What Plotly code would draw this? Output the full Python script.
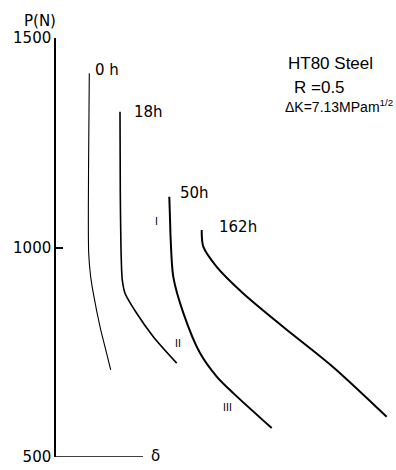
import plotly.graph_objects as go

# delta (arbitrary units) and load P (N) for each ageing time
d_0h = [33.3, 32.6, 32.7, 34.7, 37.3, 44.0, 50.7, 54.7]
p_0h = [1416, 1209, 986, 930, 891, 811, 747, 708]

d_18h = [64.0, 64.3, 65.3, 66.3, 69.0, 80.7, 97.3, 120.7]
p_18h = [1324, 1129, 970, 922, 891, 843, 787, 724]

d_50h = [113.3, 114.0, 114.7, 117.3, 127.3, 144.0, 160.7, 177.0, 215.7]
p_50h = [1121, 1070, 1018, 930, 844, 748, 692, 653, 569]

d_162h = [145.7, 147.3, 160.7, 187.0, 227.0, 277.0, 330.7]
p_162h = [1042, 1002, 954, 891, 811, 715, 596]

curve_labels = ["0 h", "18h", "50h", "162h"]
y_ticks = [500, 1000, 1500]

FONT = "DejaVu Sans"
FONT2 = "Liberation Sans"

fig = go.Figure()
for d, p, w in [(d_0h, p_0h, 1.1), (d_18h, p_18h, 1.6), (d_50h, p_50h, 2.0), (d_162h, p_162h, 2.0)]:
    fig.add_trace(go.Scatter(x=d, y=p, mode="lines", line=dict(color="black", width=w, shape="spline", smoothing=0.8),
                             showlegend=False, hoverinfo="skip"))

# short delta axis
fig.add_shape(type="line", x0=0, x1=87, y0=500, y1=500, line=dict(color="black", width=1.5))

ann = [
    (50.5, 1424, curve_labels[0], 15), (92, 1324, curve_labels[1], 15),
    (138, 1131, curve_labels[2], 15), (182, 1048, curve_labels[3], 15),
    (100, 1061, "I", 10), (122, 770, "II", 10), (171, 617, "III", 10), (99, 503, "δ", 15),
]
for x, y, t, s in ann:
    fig.add_annotation(x=x, y=y, text=t, showarrow=False, font=dict(family=FONT, size=s, color="black"))

fig.add_annotation(xref="paper", yref="paper", x=-0.047, y=1.041, xanchor="center", yanchor="middle",
                   text="P(N)", showarrow=False, font=dict(family=FONT, size=15, color="black"))

for x, y, t, s in [(230, 1439, "HT80 Steel", 17), (236, 1381, "R =0.5", 17),
                   (227, 1338, "ΔK=7.13MPam<sup>1/2</sup>", 14)]:
    fig.add_annotation(x=x, y=y, text=t, showarrow=False, xanchor="left", yanchor="middle",
                       font=dict(family=FONT2, size=s, color="black"))

fig.update_xaxes(range=[0, 340], visible=False)
fig.update_yaxes(range=[500, 1500], tickvals=y_ticks, ticktext=[str(v) for v in y_ticks],
                 showline=True, linecolor="black", linewidth=1.5, ticks="inside", ticklen=7,
                 tickcolor="black", tickwidth=1.5, showgrid=False, zeroline=False, automargin=False,
                 tickfont=dict(family=FONT, size=15, color="black"))
fig.update_layout(width=396, height=470, margin=dict(l=56, r=0, t=38, b=13),
                  plot_bgcolor="white", paper_bgcolor="white")
fig.write_html("out.html", config={"displayModeBar": False},
               post_script="document.body.style.margin='0';document.body.style.overflow='hidden';")
